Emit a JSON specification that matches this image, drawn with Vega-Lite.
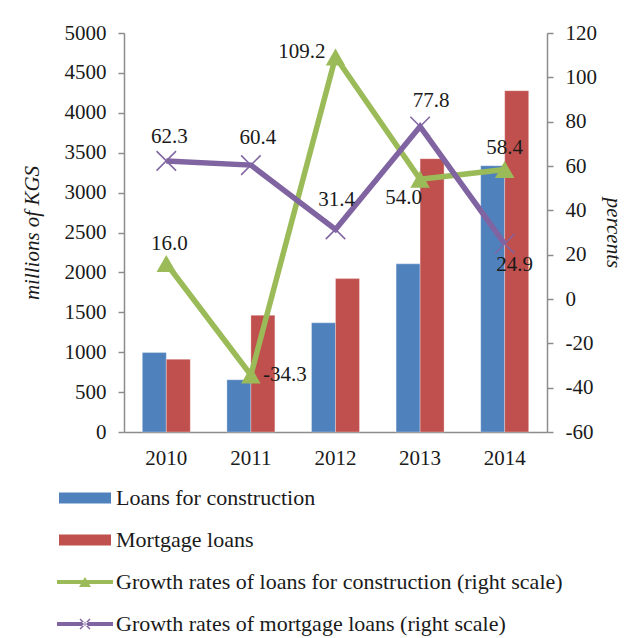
{
  "$schema": "https://vega.github.io/schema/vega-lite/v6.json",
  "width": 423,
  "height": 399,
  "autosize": {"type": "none"},
  "padding": {"left": 124, "top": 33, "right": 80, "bottom": 206},
  "background": "white",
  "config": {
    "locale": {
      "number": {"decimal": ".", "thousands": "", "grouping": [3], "currency": ["", ""], "minus": "-"}
    },
    "view": {"stroke": null},
    "font": "Liberation Serif",
    "axis": {
      "labelFont": "Liberation Serif",
      "labelFontSize": 21,
      "labelColor": "#1a1a1a",
      "titleFont": "Liberation Serif",
      "titleFontSize": 21,
      "titleFontWeight": "normal",
      "titleFontStyle": "italic",
      "titleColor": "#1a1a1a",
      "domainColor": "#8c8c8c",
      "domainWidth": 1.5,
      "tickColor": "#8c8c8c",
      "tickWidth": 1.5,
      "tickSize": 6,
      "grid": false
    },
    "legend": {
      "labelFont": "Liberation Serif",
      "labelFontSize": 22,
      "labelColor": "#1a1a1a",
      "labelLimit": 0
    }
  },
  "datasets": {
    "bars": [
      {"year": "2010", "series": "Loans for construction", "value": 995},
      {"year": "2010", "series": "Mortgage loans", "value": 912},
      {"year": "2011", "series": "Loans for construction", "value": 654},
      {"year": "2011", "series": "Mortgage loans", "value": 1463},
      {"year": "2012", "series": "Loans for construction", "value": 1368},
      {"year": "2012", "series": "Mortgage loans", "value": 1922},
      {"year": "2013", "series": "Loans for construction", "value": 2107},
      {"year": "2013", "series": "Mortgage loans", "value": 3425},
      {"year": "2014", "series": "Loans for construction", "value": 3337},
      {"year": "2014", "series": "Mortgage loans", "value": 4277}
    ],
    "growth": [
      {"year": "2010", "series": "Growth rates of loans for construction (right scale)", "rate": 16.0},
      {"year": "2011", "series": "Growth rates of loans for construction (right scale)", "rate": -34.3},
      {"year": "2012", "series": "Growth rates of loans for construction (right scale)", "rate": 109.2},
      {"year": "2013", "series": "Growth rates of loans for construction (right scale)", "rate": 54.0},
      {"year": "2014", "series": "Growth rates of loans for construction (right scale)", "rate": 58.4},
      {"year": "2010", "series": "Growth rates of mortgage loans (right scale)", "rate": 62.3},
      {"year": "2011", "series": "Growth rates of mortgage loans (right scale)", "rate": 60.4},
      {"year": "2012", "series": "Growth rates of mortgage loans (right scale)", "rate": 31.4},
      {"year": "2013", "series": "Growth rates of mortgage loans (right scale)", "rate": 77.8},
      {"year": "2014", "series": "Growth rates of mortgage loans (right scale)", "rate": 24.9}
    ]
  },
  "encoding": {
    "x": {
      "field": "year",
      "type": "nominal",
      "scale": {"paddingInner": 0.433, "paddingOuter": 0.2165},
      "axis": {"title": null, "labelAngle": 0, "ticks": false, "labelPadding": 15}
    }
  },
  "layer": [
    {
      "data": {"name": "bars"},
      "mark": {"type": "bar", "stroke": "white", "strokeWidth": 0.5, "strokeOpacity": 0.6},
      "encoding": {
        "xOffset": {"field": "series", "type": "nominal", "sort": ["Loans for construction", "Mortgage loans"]},
        "y": {
          "field": "value",
          "type": "quantitative",
          "scale": {"domain": [0, 5000], "nice": false},
          "axis": {"title": "millions of KGS", "values": [0, 500, 1000, 1500, 2000, 2500, 3000, 3500, 4000, 4500, 5000], "labelPadding": 12, "titlePadding": 22}
        },
        "color": {
          "field": "series",
          "type": "nominal",
          "scale": {
            "domain": ["Loans for construction", "Mortgage loans", "Growth rates of loans for construction (right scale)", "Growth rates of mortgage loans (right scale)"],
            "range": ["#4F81BD", "#C0504D", "#9BBB59", "#8064A2"]
          },
          "legend": {
            "title": null,
            "orient": "none",
            "legendX": -50,
            "legendY": 454,
            "direction": "vertical",
            "symbolSize": 400,
            "symbolOpacity": 1,
            "symbolStrokeWidth": 0,
            "labelOffset": 20,
            "rowPadding": 20,
            "padding": 0
          }
        }
      }
    },
    {
      "data": {"name": "growth"},
      "encoding": {
        "y": {
          "field": "rate",
          "type": "quantitative",
          "scale": {"domain": [-60, 120], "nice": false},
          "axis": {"title": "percents", "orient": "right", "values": [-60, -40, -20, 0, 20, 40, 60, 80, 100, 120], "labelPadding": 12, "titlePadding": 6}
        }
      },
      "layer": [
        {
          "mark": {"type": "line", "strokeWidth": 5.5},
          "encoding": {
            "stroke": {
              "field": "series",
              "type": "nominal",
              "scale": {"domain": ["Growth rates of loans for construction (right scale)", "Growth rates of mortgage loans (right scale)"], "range": ["#9BBB59", "#8064A2"]},
              "legend": null
            }
          }
        },
        {
          "transform": [{"filter": "datum.series == 'Growth rates of loans for construction (right scale)'"}],
          "mark": {"type": "point", "shape": "triangle-up", "filled": true, "color": "#9BBB59", "size": 380, "opacity": 1}
        },
        {
          "transform": [{"filter": "datum.series == 'Growth rates of mortgage loans (right scale)'"}],
          "mark": {"type": "point", "shape": "M-1,-1L1,1M1,-1L-1,1", "filled": false, "stroke": "#8064A2", "strokeWidth": 1.5, "size": 380, "opacity": 1}
        },
        {
          "mark": {"type": "point", "filled": true, "opacity": 0},
          "encoding": {
            "color": {"field": "series", "type": "nominal"},
            "shape": {
              "field": "series",
              "type": "nominal",
              "scale": {
                "domain": ["Loans for construction", "Mortgage loans", "Growth rates of loans for construction (right scale)", "Growth rates of mortgage loans (right scale)"],
                "range": [
                  "M-2.6,-0.55H2.6V0.55H-2.6Z",
                  "M-2.6,-0.55H2.6V0.55H-2.6Z",
                  "M-2.8,-0.2H2.8V0.2H-2.8Z M-0.6,0.5L0,-0.5L0.6,0.5Z",
                  "M-2.8,-0.2H2.8V0.2H-2.8Z M-0.55,-0.45L0.45,0.55L0.55,0.45L-0.45,-0.55Z M0.45,-0.55L-0.55,0.45L-0.45,0.55L0.55,-0.45Z"
                ]
              },
              "legend": {
                "title": null,
                "orient": "none",
                "legendX": -50,
                "legendY": 454,
                "direction": "vertical",
                "symbolSize": 400,
                "symbolOpacity": 1,
                "symbolStrokeWidth": 0,
                "labelOffset": 20,
                "rowPadding": 20,
                "padding": 0
              }
            }
          }
        },
        {
          "transform": [{"filter": "datum.series == 'Growth rates of loans for construction (right scale)' && datum.year == '2010'"}],
          "mark": {"type": "text", "fontSize": 21, "font": "Liberation Serif", "color": "#1a1a1a", "baseline": "middle", "align": "center", "dx": 3, "dy": -20},
          "encoding": {"text": {"field": "rate", "type": "quantitative", "format": ".1f"}}
        },
        {
          "transform": [{"filter": "datum.series == 'Growth rates of loans for construction (right scale)' && datum.year == '2011'"}],
          "mark": {"type": "text", "fontSize": 21, "font": "Liberation Serif", "color": "#1a1a1a", "baseline": "middle", "align": "left", "dx": 12, "dy": 0},
          "encoding": {"text": {"field": "rate", "type": "quantitative", "format": ".1f"}}
        },
        {
          "transform": [{"filter": "datum.series == 'Growth rates of loans for construction (right scale)' && datum.year == '2012'"}],
          "mark": {"type": "text", "fontSize": 21, "font": "Liberation Serif", "color": "#1a1a1a", "baseline": "middle", "align": "right", "dx": -10, "dy": -5},
          "encoding": {"text": {"field": "rate", "type": "quantitative", "format": ".1f"}}
        },
        {
          "transform": [{"filter": "datum.series == 'Growth rates of loans for construction (right scale)' && datum.year == '2013'"}],
          "mark": {"type": "text", "fontSize": 21, "font": "Liberation Serif", "color": "#1a1a1a", "baseline": "middle", "align": "right", "dx": 2, "dy": 19},
          "encoding": {"text": {"field": "rate", "type": "quantitative", "format": ".1f"}}
        },
        {
          "transform": [{"filter": "datum.series == 'Growth rates of loans for construction (right scale)' && datum.year == '2014'"}],
          "mark": {"type": "text", "fontSize": 21, "font": "Liberation Serif", "color": "#1a1a1a", "baseline": "middle", "align": "center", "dx": 0, "dy": -22},
          "encoding": {"text": {"field": "rate", "type": "quantitative", "format": ".1f"}}
        },
        {
          "transform": [{"filter": "datum.series == 'Growth rates of mortgage loans (right scale)' && datum.year == '2010'"}],
          "mark": {"type": "text", "fontSize": 21, "font": "Liberation Serif", "color": "#1a1a1a", "baseline": "middle", "align": "center", "dx": 3, "dy": -24},
          "encoding": {"text": {"field": "rate", "type": "quantitative", "format": ".1f"}}
        },
        {
          "transform": [{"filter": "datum.series == 'Growth rates of mortgage loans (right scale)' && datum.year == '2011'"}],
          "mark": {"type": "text", "fontSize": 21, "font": "Liberation Serif", "color": "#1a1a1a", "baseline": "middle", "align": "center", "dx": 7, "dy": -27},
          "encoding": {"text": {"field": "rate", "type": "quantitative", "format": ".1f"}}
        },
        {
          "transform": [{"filter": "datum.series == 'Growth rates of mortgage loans (right scale)' && datum.year == '2012'"}],
          "mark": {"type": "text", "fontSize": 21, "font": "Liberation Serif", "color": "#1a1a1a", "baseline": "middle", "align": "center", "dx": 1, "dy": -29},
          "encoding": {"text": {"field": "rate", "type": "quantitative", "format": ".1f"}}
        },
        {
          "transform": [{"filter": "datum.series == 'Growth rates of mortgage loans (right scale)' && datum.year == '2013'"}],
          "mark": {"type": "text", "fontSize": 21, "font": "Liberation Serif", "color": "#1a1a1a", "baseline": "middle", "align": "center", "dx": 11, "dy": -26},
          "encoding": {"text": {"field": "rate", "type": "quantitative", "format": ".1f"}}
        },
        {
          "transform": [{"filter": "datum.series == 'Growth rates of mortgage loans (right scale)' && datum.year == '2014'"}],
          "mark": {"type": "text", "fontSize": 21, "font": "Liberation Serif", "color": "#1a1a1a", "baseline": "middle", "align": "center", "dx": 10, "dy": 21},
          "encoding": {"text": {"field": "rate", "type": "quantitative", "format": ".1f"}}
        }
      ]
    }
  ],
  "resolve": {"scale": {"y": "independent"}}
}
